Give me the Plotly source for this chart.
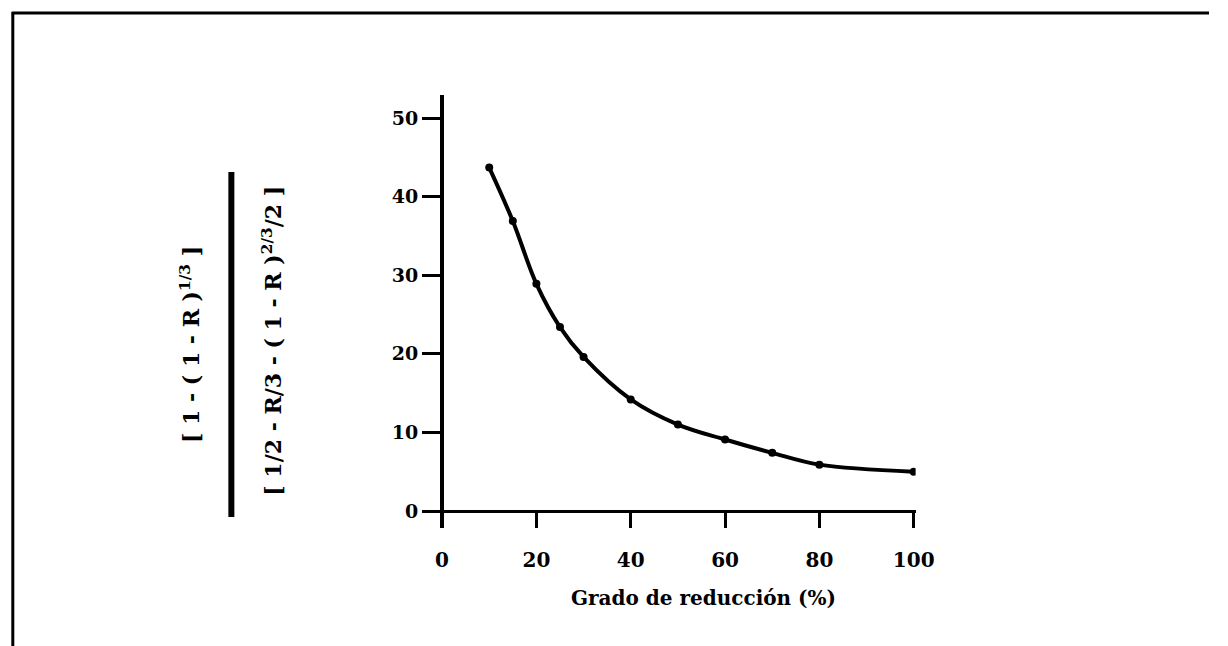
import plotly.graph_objects as go

# Degree of reduction (%) and the corresponding value of the kinetic ratio
reduccion = [10, 15, 20, 25, 30, 40, 50, 60, 70, 80, 100]
razon = [43.7, 36.9, 28.9, 23.4, 19.6, 14.2, 11.0, 9.1, 7.4, 5.9, 5.0]

x_ticks = [0, 20, 40, 60, 80, 100]
y_ticks = [0, 10, 20, 30, 40, 50]

W, H = 1228, 646
FONT = "DejaVu Serif"

fig = go.Figure()
fig.add_trace(go.Scatter(
    x=reduccion, y=razon,
    mode="lines+markers",
    line=dict(color="black", width=4, shape="spline", smoothing=1.0),
    marker=dict(color="black", size=8),
    showlegend=False, hoverinfo="skip",
))

def px_x(p):
    return p / W

def px_y(p):
    return 1 - p / H

fig.update_layout(
    width=W, height=H,
    margin=dict(l=0, r=0, t=0, b=0),
    paper_bgcolor="white", plot_bgcolor="white",
    font=dict(family=FONT, color="black", size=20, weight="bold"),
    xaxis=dict(
        domain=[px_x(432), px_x(930)],
        range=[-3.55, 100.4],
        anchor="free", position=px_y(511),
        tickvals=x_ticks, ticktext=[str(v) for v in x_ticks],
        ticks="outside", ticklen=15, tickwidth=3, tickcolor="black",
        ticklabelstandoff=15,
        showline=True, linewidth=3, linecolor="black",
        showgrid=False, zeroline=False,
        tickfont=dict(family=FONT, size=20, weight="bold"),
    ),
    yaxis=dict(
        domain=[px_y(528), px_y(95)],
        range=[-2.16, 52.93],
        anchor="free", position=px_x(449),
        tickvals=y_ticks, ticktext=[str(v) for v in y_ticks],
        ticks="outside", ticklen=18, tickwidth=3, tickcolor="black",
        ticklabelstandoff=0,
        showline=True, linewidth=4, linecolor="black",
        showgrid=False, zeroline=False,
        tickfont=dict(family=FONT, size=19, weight="bold"),
    ),
)

# x-axis title
fig.add_annotation(
    xref="paper", yref="paper", x=px_x(715), y=px_y(598),
    text="Grado de reducción (%)", showarrow=False,
    xanchor="center", yanchor="middle",
    font=dict(family=FONT, size=20, weight="bold"),
)

# y-axis title written as a vertical fraction
fig.add_annotation(
    xref="paper", yref="paper", x=px_x(193), y=px_y(345),
    text="[ 1 - ( 1 - R )<sup>1/3</sup> ]", showarrow=False, textangle=-90,
    xanchor="center", yanchor="middle",
    font=dict(family=FONT, size=22, weight="bold"),
)
fig.add_annotation(
    xref="paper", yref="paper", x=px_x(276), y=px_y(341),
    text="[ 1/2 - R/3 - ( 1 - R )<sup>2/3</sup>/2 ]", showarrow=False, textangle=-90,
    xanchor="center", yanchor="middle",
    font=dict(family=FONT, size=22, weight="bold"),
)
fig.add_shape(
    type="line", xref="paper", yref="paper",
    x0=px_x(235), x1=px_x(235), y0=px_y(172), y1=px_y(517),
    line=dict(color="black", width=6),
)

# page frame: top and left rules
fig.add_shape(
    type="line", xref="paper", yref="paper",
    x0=px_x(12), x1=1, y0=px_y(13), y1=px_y(13),
    line=dict(color="black", width=3),
)
fig.add_shape(
    type="line", xref="paper", yref="paper",
    x0=px_x(13), x1=px_x(13), y0=px_y(12), y1=0,
    line=dict(color="black", width=3),
)

fig.write_html("out.html")
